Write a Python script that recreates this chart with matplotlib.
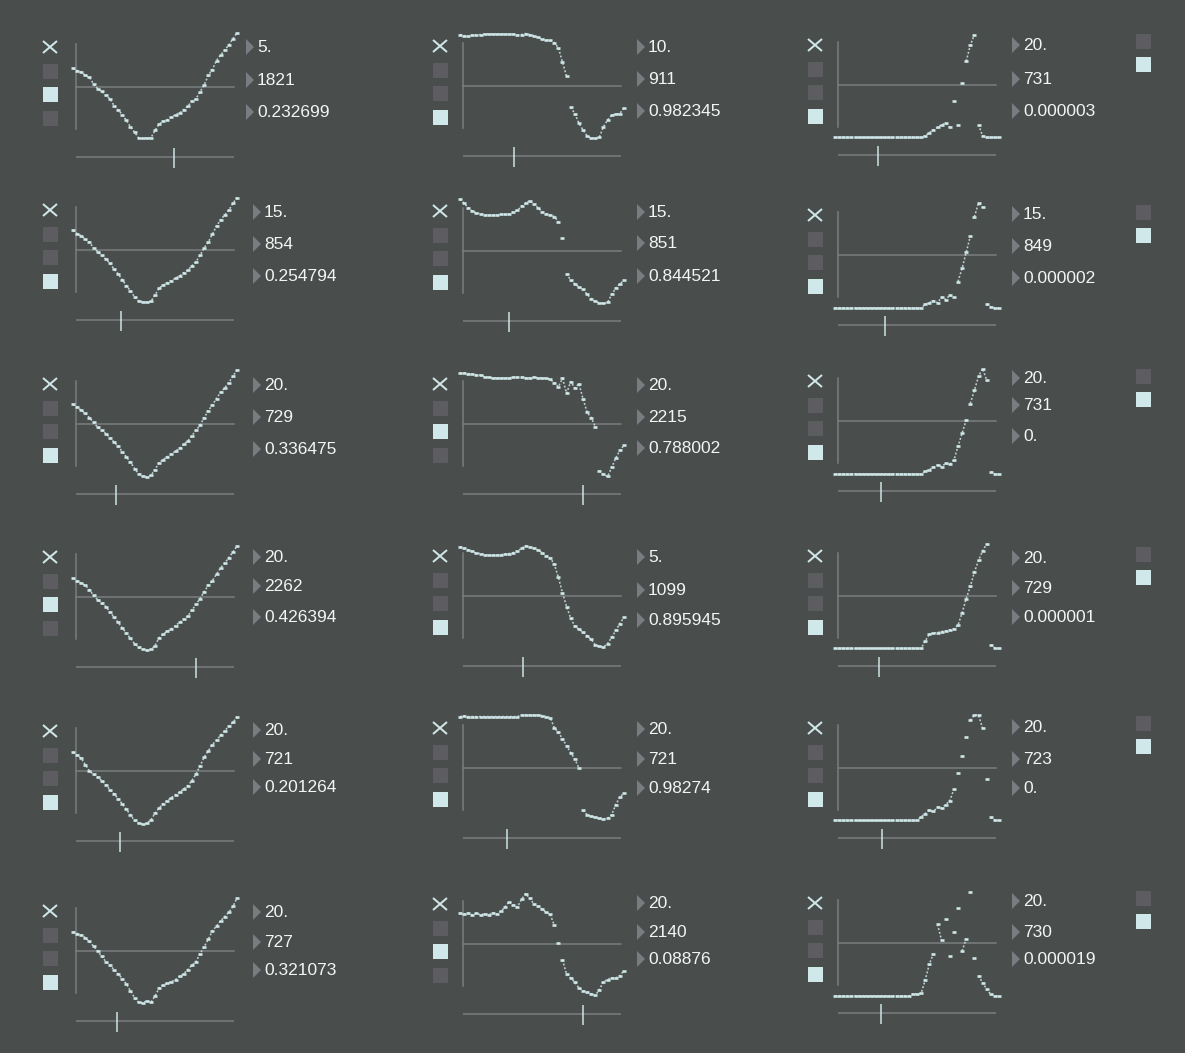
import matplotlib.pyplot as plt
import numpy as np
from matplotlib.patches import Rectangle, Polygon

W, H = 1185, 1053

BG = '#494d4b'
CURVE = '#cfe7e8'
GRID = '#7c7f80'
BOX_OFF = '#5d5d61'
BOX_ON = '#d0e8ea'
ARROW = '#7a7c81'
TEXT = '#f2f5f5'

# signal snapshots, one list per panel (row r, column c), values in -1..1
sig_r0c0 = [0.35, 0.31, 0.28, 0.22, 0.18, 0.06, -0.03, -0.08, -0.16, -0.22, -0.35, -0.43, -0.52, -0.63,
            -0.75, -0.85, -0.96, -0.97, -0.96, -0.96, -0.82, -0.70, -0.65, -0.62, -0.57, -0.52, -0.49,
            -0.43, -0.36, -0.27, -0.22, -0.09, 0.04, 0.22, 0.33, 0.50, 0.60, 0.70, 0.79, 0.91, 1.02]
sig_r0c1 = [0.97, 0.95, 0.94, 0.96, 0.96, 0.97, 0.98, 0.98, 0.98, 0.98, 0.98, 0.98, 0.98, 0.98, 0.96,
            0.97, 0.99, 0.97, 0.95, 0.92, 0.88, 0.87, 0.86, 0.82, 0.72, 0.45, 0.18, -0.40, -0.52, -0.70,
            -0.83, -0.94, -0.98, -0.99, -0.96, -0.77, -0.64, -0.55, -0.53, -0.52, -0.41]
sig_r0c2 = [-0.99, -0.99, -0.99, -0.99, -0.99, -0.99, -0.99, -0.99, -0.99, -0.99, -0.99, -0.99, -0.99,
            -0.99, -0.99, -0.99, -0.99, -0.99, -0.99, -0.99, -0.99, -0.99, -0.96, -0.90, -0.85, -0.80,
            -0.75, -0.72, -0.80, -0.30, -0.75, 0.03, 0.45, 0.75, 0.95, -0.75, -0.96, -0.99, -0.99, -0.99, -0.99]

sig_r1c0 = [0.37, 0.31, 0.27, 0.20, 0.15, 0.04, -0.03, -0.10, -0.17, -0.25, -0.36, -0.45, -0.56, -0.67,
            -0.77, -0.88, -0.96, -0.98, -0.99, -0.97, -0.85, -0.72, -0.66, -0.62, -0.58, -0.53, -0.49,
            -0.43, -0.38, -0.30, -0.22, -0.10, 0.04, 0.15, 0.30, 0.45, 0.57, 0.66, 0.75, 0.88, 0.99]
sig_r1c1 = [0.98, 0.90, 0.82, 0.75, 0.72, 0.70, 0.68, 0.68, 0.68, 0.68, 0.69, 0.69, 0.70, 0.73, 0.77,
            0.84, 0.90, 0.95, 0.88, 0.82, 0.74, 0.70, 0.68, 0.65, 0.55, 0.25, -0.43, -0.55, -0.62, -0.68,
            -0.72, -0.82, -0.90, -0.95, -0.98, -0.99, -0.97, -0.82, -0.70, -0.62, -0.55]
sig_r1c2 = [-1.0, -1.0, -1.0, -1.0, -1.0, -1.0, -1.0, -1.0, -1.0, -1.0, -1.0, -1.0, -1.0, -1.0, -1.0,
            -1.0, -1.0, -1.0, -1.0, -1.0, -1.0, -1.0, -0.93, -0.90, -0.86, -0.90, -0.80, -0.84, -0.76,
            -0.80, -0.50, -0.25, 0.05, 0.35, 0.72, 0.98, 0.90, -0.93, -0.98, -1.0, -1.0]

sig_r2c0 = [0.37, 0.32, 0.26, 0.20, 0.12, 0.03, -0.06, -0.12, -0.18, -0.26, -0.34, -0.42, -0.52, -0.62,
            -0.72, -0.84, -0.94, -0.99, -1.0, -0.97, -0.86, -0.73, -0.67, -0.62, -0.57, -0.51, -0.46,
            -0.38, -0.32, -0.22, -0.12, -0.02, 0.12, 0.25, 0.36, 0.48, 0.60, 0.68, 0.78, 0.90, 1.02]
sig_r2c1 = [0.96, 0.96, 0.95, 0.94, 0.93, 0.92, 0.89, 0.88, 0.87, 0.87, 0.87, 0.87, 0.87, 0.88, 0.88,
            0.88, 0.87, 0.87, 0.88, 0.87, 0.87, 0.86, 0.84, 0.78, 0.70, 0.86, 0.58, 0.80, 0.68, 0.76,
            0.48, 0.22, 0.12, -0.05, -0.88, -0.95, -0.99, -0.82, -0.64, -0.50, -0.40]
sig_r2c2 = [-1.0, -1.0, -1.0, -1.0, -1.0, -1.0, -1.0, -1.0, -1.0, -1.0, -1.0, -1.0, -1.0, -1.0, -1.0,
            -1.0, -1.0, -1.0, -1.0, -1.0, -1.0, -1.0, -0.95, -0.92, -0.87, -0.83, -0.86, -0.80, -0.82,
            -0.74, -0.48, -0.23, 0.02, 0.33, 0.58, 0.84, 0.99, 0.77, -0.96, -1.0, -1.0]

sig_r3c0 = [0.35, 0.30, 0.26, 0.22, 0.14, 0.03, -0.05, -0.11, -0.18, -0.28, -0.38, -0.48, -0.58, -0.68,
            -0.78, -0.88, -0.95, -0.99, -1.0, -0.99, -0.92, -0.77, -0.70, -0.65, -0.60, -0.54, -0.48,
            -0.42, -0.36, -0.25, -0.14, -0.03, 0.10, 0.22, 0.31, 0.43, 0.55, 0.64, 0.74, 0.85, 0.96]
sig_r3c1 = [0.93, 0.90, 0.87, 0.84, 0.81, 0.80, 0.78, 0.77, 0.77, 0.77, 0.78, 0.79, 0.80, 0.82, 0.84,
            0.90, 0.95, 0.92, 0.90, 0.87, 0.82, 0.76, 0.72, 0.60, 0.35, 0.06, -0.20, -0.42, -0.57, -0.63,
            -0.68, -0.75, -0.82, -0.92, -0.95, -0.96, -0.90, -0.78, -0.65, -0.52, -0.40]
sig_r3c2 = [-0.99, -0.99, -0.99, -0.99, -0.99, -0.99, -0.99, -0.99, -0.99, -0.99, -0.99, -0.99, -0.99,
            -0.99, -0.99, -0.99, -0.99, -0.99, -0.99, -0.99, -0.99, -0.99, -0.85, -0.72, -0.70, -0.69,
            -0.67, -0.66, -0.64, -0.62, -0.55, -0.32, -0.05, 0.18, 0.45, 0.67, 0.85, 0.98, -0.92, -0.98, -0.99]

sig_r4c0 = [0.35, 0.30, 0.24, 0.12, 0.0, -0.06, -0.12, -0.18, -0.26, -0.35, -0.43, -0.52, -0.62, -0.72,
            -0.83, -0.93, -0.99, -1.0, -0.99, -0.92, -0.80, -0.70, -0.62, -0.56, -0.50, -0.45, -0.40,
            -0.34, -0.28, -0.18, -0.06, 0.10, 0.26, 0.38, 0.50, 0.58, 0.67, 0.76, 0.84, 0.92, 1.01]
sig_r4c1 = [0.97, 0.98, 0.97, 0.97, 0.97, 0.97, 0.97, 0.97, 0.97, 0.97, 0.97, 0.97, 0.97, 0.97, 0.97,
            1.0, 1.0, 1.0, 1.0, 1.0, 0.99, 0.97, 0.95, 0.76, 0.67, 0.55, 0.42, 0.29, 0.17, 0.0, -0.80,
            -0.88, -0.91, -0.93, -0.94, -0.96, -0.95, -0.88, -0.69, -0.55, -0.47]
sig_r4c2 = [-0.99, -0.99, -0.99, -0.99, -0.99, -0.99, -0.99, -0.99, -0.99, -0.99, -0.99, -0.99, -0.99,
            -0.99, -0.99, -0.99, -0.99, -0.99, -0.99, -0.99, -0.99, -0.92, -0.86, -0.80, -0.82, -0.74,
            -0.76, -0.69, -0.62, -0.40, -0.10, 0.22, 0.58, 0.90, 1.0, 1.0, 0.75, -0.20, -0.93, -0.98, -0.99]

sig_r5c0 = [0.36, 0.33, 0.30, 0.25, 0.18, 0.09, 0.0, -0.10, -0.20, -0.27, -0.35, -0.43, -0.52, -0.62,
            -0.75, -0.88, -0.97, -0.98, -0.94, -0.97, -0.85, -0.70, -0.64, -0.61, -0.58, -0.54, -0.48,
            -0.43, -0.35, -0.27, -0.20, -0.05, 0.08, 0.22, 0.38, 0.47, 0.57, 0.65, 0.73, 0.84, 1.0]
sig_r5c1 = [0.58, 0.56, 0.58, 0.55, 0.58, 0.55, 0.57, 0.55, 0.59, 0.56, 0.62, 0.70, 0.80, 0.73, 0.70,
            0.84, 0.95, 0.86, 0.76, 0.71, 0.66, 0.60, 0.56, 0.35, 0.01, -0.30, -0.57, -0.64, -0.72, -0.83,
            -0.88, -0.91, -0.94, -0.97, -0.86, -0.71, -0.67, -0.64, -0.64, -0.60, -0.50]
sig_r5c2 = [-1.0, -1.0, -1.0, -1.0, -1.0, -1.0, -1.0, -1.0, -1.0, -1.0, -1.0, -1.0, -1.0, -1.0, -1.0,
            -1.0, -1.0, -1.0, -1.0, -0.96, -0.96, -0.95, -0.70, -0.40, -0.20, 0.35, 0.05, 0.45, -0.25,
            0.20, 0.66, -0.15, 0.08, 0.97, -0.28, -0.62, -0.75, -0.87, -0.97, -1.0, -1.0]

signals = [[sig_r0c0, sig_r0c1, sig_r0c2],
           [sig_r1c0, sig_r1c1, sig_r1c2],
           [sig_r2c0, sig_r2c1, sig_r2c2],
           [sig_r3c0, sig_r3c1, sig_r3c2],
           [sig_r4c0, sig_r4c1, sig_r4c2],
           [sig_r5c0, sig_r5c1, sig_r5c2]]

# number box readouts
readouts = [[["5.", "1821", "0.232699"], ["10.", "911", "0.982345"], ["20.", "731", "0.000003"]],
            [["15.", "854", "0.254794"], ["15.", "851", "0.844521"], ["15.", "849", "0.000002"]],
            [["20.", "729", "0.336475"], ["20.", "2215", "0.788002"], ["20.", "731", "0."]],
            [["20.", "2262", "0.426394"], ["5.", "1099", "0.895945"], ["20.", "729", "0.000001"]],
            [["20.", "721", "0.201264"], ["20.", "721", "0.98274"], ["20.", "723", "0."]],
            [["20.", "727", "0.321073"], ["20.", "2140", "0.08876"], ["20.", "730", "0.000019"]]]

# which of the three toggles is lit
selected = [[1, 2, 2], [2, 2, 2], [2, 1, 2], [1, 2, 2], [2, 2, 2], [2, 1, 2]]

# slider positions (0..1) under each scope
slider = [[0.62, 0.32, 0.25], [0.285, 0.29, 0.30], [0.25, 0.76, 0.27],
          [0.76, 0.38, 0.26], [0.28, 0.28, 0.28], [0.26, 0.76, 0.27]]

# layout in pixels
icon_x = [50, 440, 815]
plot_left = [76, 463, 838]
plot_w = 158
anchor_y = [[47, 46, 45], [210, 211, 215], [384, 384, 381],
            [557, 556, 556], [731, 728, 728], [911, 904, 903]]
num_y = [[[47, 80, 112], [47, 79, 111], [45, 79, 111]],
         [[212, 244, 276], [212, 243, 276], [214, 246, 278]],
         [[385, 417, 449], [385, 417, 448], [378, 405, 436]],
         [[557, 586, 617], [557, 590, 620], [558, 588, 617]],
         [[730, 759, 787], [729, 759, 788], [727, 759, 788]],
         [[912, 942, 970], [903, 932, 959], [901, 932, 959]]]
arrow_x = [[246, 637, 1012]] + [[253, 637, 1012]] * 5
side_y = [41, 212, 376, 554, 723, 898]
PX = 0.72  # points per pixel at dpi 100
JUMP = 0.3  # bigger steps than this are left unconnected


def frac(x0, y0, x1, y1):
    return [x0 / W, 1 - y1 / H, (x1 - x0) / W, (y1 - y0) / H]


fig = plt.figure(figsize=(W / 100, H / 100), dpi=100, facecolor=BG)
bg = fig.add_axes([0, 0, 1, 1])
bg.set_xlim(0, W)
bg.set_ylim(H, 0)
bg.axis('off')
bg.set_facecolor(BG)


def square(x, y, on):
    bg.add_patch(Rectangle((x - 7.5, y - 7.5), 15, 15, color=BOX_ON if on else BOX_OFF, lw=0))


for r in range(6):
    for c in range(3):
        ay = anchor_y[r][c]
        ix = icon_x[c]
        left = plot_left[c]

        # close icon and the three toggles
        bg.plot([ix - 7, ix + 7], [ay - 6, ay + 6], color=CURVE, lw=2 * PX, solid_capstyle='butt')
        bg.plot([ix - 7, ix + 7], [ay + 6, ay - 6], color=CURVE, lw=2 * PX, solid_capstyle='butt')
        for k, dy in enumerate([24, 47, 71]):
            square(ix, ay + dy, selected[r][c] == k)

        # scope frame: left edge and centre line
        bg.plot([left, left], [ay - 3, ay + 82], color=GRID, lw=1.5 * PX)
        bg.plot([left, left + plot_w], [ay + 40, ay + 40], color=GRID, lw=1.5 * PX)

        # the signal itself
        sig = np.array(signals[r][c])
        xs = np.arange(len(sig))
        ax = fig.add_axes(frac(left - 3, ay - 13, left + plot_w + 3, ay + 93))
        ax.set_xlim(0, len(sig) - 1)
        ax.set_ylim(-1, 1)
        ax.axis('off')
        # faint dotted trace between neighbouring samples, broken at jumps
        cuts = np.where(np.abs(np.diff(sig)) > JUMP)[0] + 1
        for seg_x, seg_y in zip(np.split(xs, cuts), np.split(sig, cuts)):
            if len(seg_x) > 1:
                ax.plot(seg_x, seg_y, color=CURVE, lw=1.6 * PX, ls=(0, (1.2, 1.2)),
                        alpha=0.85, clip_on=False)
        ax.plot(xs, sig, ls='none', marker='_', ms=4.8 * PX,
                mew=2.6 * PX, color=CURVE, clip_on=False)

        # slider under the scope
        sa = fig.add_axes(frac(left, ay + 101, left + plot_w, ay + 121))
        sa.set_xlim(0, 1)
        sa.set_ylim(0, 20)
        sa.axis('off')
        sa.axhline(11, color=GRID, lw=1.5 * PX)
        sa.axvline(slider[r][c], color=CURVE, lw=1.5 * PX)

        # number boxes
        tx = arrow_x[r][c]
        for txt, ny in zip(readouts[r][c], num_y[r][c]):
            bg.add_patch(Polygon([[tx, ny - 8], [tx, ny + 8], [tx + 8, ny]], closed=True,
                                 color=ARROW, lw=0))
            bg.text(tx + 11, ny + 0.5, txt, color=TEXT, fontsize=12.5,
                    family='Liberation Sans', va='center', ha='left')

        if c == 2:
            square(1143, side_y[r], False)
            square(1143, side_y[r] + 23, True)

fig.savefig('out.png', dpi=100, facecolor=BG)
